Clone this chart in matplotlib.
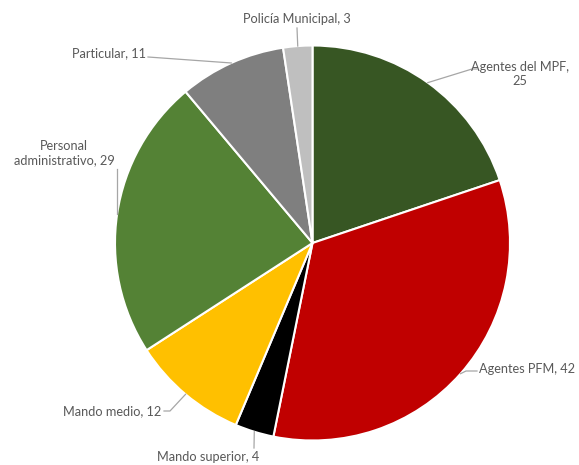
import numpy as np
import matplotlib.pyplot as plt

plt.rcParams['font.family'] = ['Lato', 'DejaVu Sans']

labels = ["Agentes del MPF,\n25", "Agentes PFM, 42", "Mando superior, 4", "Mando medio, 12",
          "Personal\nadministrativo, 29", "Particular, 11", "Policía Municipal, 3"]
values = [25, 42, 4, 12, 29, 11, 3]
colors = ["#375623", "#C00000", "#000000", "#FFC000", "#548235", "#7F7F7F", "#BFBFBF"]

W, H = 579, 465
fig = plt.figure(figsize=(W / 100, H / 100), dpi=100)
ax = fig.add_axes([0, 0, 1, 1])

cx, cy, r = 312.5, H - 243, 197.5
wedges, _ = ax.pie(values, colors=colors, startangle=90, counterclock=False,
                   center=(cx, cy), radius=r, frame=True,
                   wedgeprops=dict(edgecolor='white', linewidth=1.5))
ax.set_xlim(0, W)
ax.set_ylim(0, H)
ax.set_aspect('equal')
ax.axis('off')

# label anchor (x, y from top), alignment, elbow points (from top)
layout = [
    ((520, 74), 'center', [(472, 69), (477, 69)]),
    ((479, 369), 'left', [(466, 371), (477, 371)]),
    ((208, 457), 'center', [(254, 448)]),
    ((161, 411), 'right', [(170, 411), (164, 411)]),
    ((64, 153), 'center', [(117, 169)]),
    ((146, 53), 'right', [(148, 57)]),
    ((297, 19), 'center', [(297, 28)]),
]

txt_color = "#595959"
line_color = "#A6A6A6"
for w, lab, (pos, ha, elbow) in zip(wedges, labels, layout):
    ang = np.deg2rad((w.theta1 + w.theta2) / 2)
    mx = cx + r * np.cos(ang)
    my = cy + r * np.sin(ang)
    xs = [mx] + [p[0] for p in elbow]
    ys = [my] + [H - p[1] for p in elbow]
    if lab.startswith("Personal"):
        xs = [mx, mx]  # vertical leader
    ax.plot(xs, ys, color=line_color, linewidth=0.9, zorder=3)
    ax.text(pos[0], H - pos[1], lab, ha=ha, va='center', multialignment='center',
            fontsize=9.2, color=txt_color, linespacing=1.15)

fig.savefig("out.png", dpi=100)
